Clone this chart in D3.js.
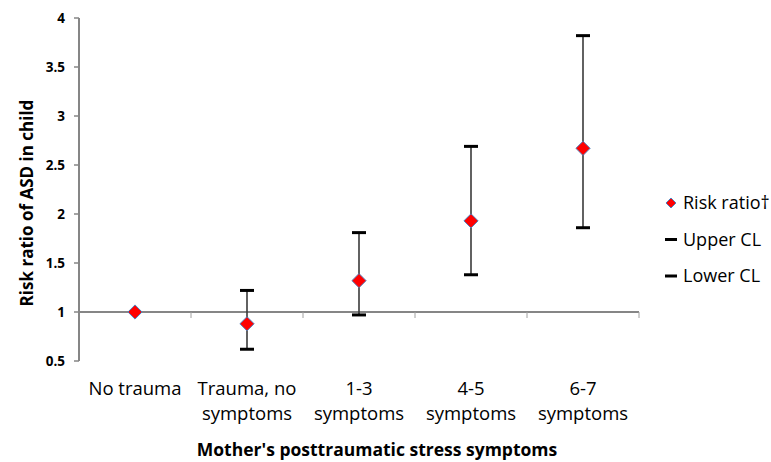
<!DOCTYPE html>
<html>
<head>
<meta charset="utf-8">
<script src="https://cdn.jsdelivr.net/npm/d3@7"></script>
<style>
  body { margin: 0; background: #fff; }
  text { font-family: "Open Sans", Lato, sans-serif; fill: #000; }
  .tick-label { font-size: 13.5px; font-weight: bold; }
  .cat-label { font-size: 18.5px; }
  .axis-title { font-weight: bold; }
  .legend-label { font-size: 18px; }
</style>
</head>
<body>
<div id="chart"></div>
<script>
const categories = [["No trauma"], ["Trauma, no", "symptoms"], ["1-3", "symptoms"], ["4-5", "symptoms"], ["6-7", "symptoms"]];
const riskRatio = [1.0, 0.88, 1.32, 1.93, 2.67];
const upperCL = [null, 1.22, 1.81, 2.69, 3.82];
const lowerCL = [null, 0.62, 0.97, 1.38, 1.86];
const yTicks = [0.5, 1, 1.5, 2, 2.5, 3, 3.5, 4];
const legendItems = ["Risk ratio\u2020", "Upper CL", "Lower CL"];

const width = 771;
const height = 462;
const margin = { top: 18, left: 79, right: 132, bottom: 101 };

const svg = d3.select('#chart').append('svg')
  .attr('width', width)
  .attr('height', height);

const x = d3.scaleBand()
  .domain(d3.range(categories.length))
  .range([margin.left, width - margin.right]);

const y = d3.scaleLinear()
  .domain([0.5, 4])
  .range([height - margin.bottom, margin.top]);

// y axis
svg.append('line')
  .attr('x1', margin.left).attr('x2', margin.left)
  .attr('y1', y(4)).attr('y2', y(0.5))
  .attr('stroke', '#868686').attr('stroke-width', 2);

svg.selectAll('.ytick')
  .data(yTicks)
  .join('line')
    .attr('class', 'ytick')
    .attr('x1', margin.left - 5).attr('x2', margin.left)
    .attr('y1', d => y(d)).attr('y2', d => y(d))
    .attr('stroke', '#868686').attr('stroke-width', 1.5);

svg.selectAll('.tick-label')
  .data(yTicks)
  .join('text')
    .attr('class', 'tick-label')
    .attr('x', margin.left - 14)
    .attr('y', d => y(d))
    .attr('dy', '0.35em')
    .attr('text-anchor', 'end')
    .text(d => d);

// x axis at 1
svg.append('line')
  .attr('x1', margin.left).attr('x2', width - margin.right)
  .attr('y1', y(1)).attr('y2', y(1))
  .attr('stroke', '#868686').attr('stroke-width', 2);

svg.selectAll('.xtick')
  .data(d3.range(1, categories.length + 1))
  .join('line')
    .attr('class', 'xtick')
    .attr('x1', d => margin.left + d * x.bandwidth())
    .attr('x2', d => margin.left + d * x.bandwidth())
    .attr('y1', y(1)).attr('y2', y(1) + 6)
    .attr('stroke', '#a0a0a0').attr('stroke-width', 1);

const catGroups = svg.selectAll('.cat')
  .data(categories)
  .join('text')
    .attr('class', 'cat-label')
    .attr('text-anchor', 'middle')
    .attr('x', (d, i) => x(i) + x.bandwidth() / 2)
    .attr('y', 395);

catGroups.selectAll('tspan')
  .data(d => d)
  .join('tspan')
    .attr('x', function() { return this.parentNode.getAttribute('x'); })
    .attr('dy', (d, i) => i === 0 ? 0 : 25)
    .text(d => d);

// error bars
const bars = riskRatio.map((v, i) => ({ i, v, up: upperCL[i], lo: lowerCL[i] }))
  .filter(d => d.up !== null);

svg.selectAll('.stem')
  .data(bars)
  .join('line')
    .attr('x1', d => x(d.i) + x.bandwidth() / 2)
    .attr('x2', d => x(d.i) + x.bandwidth() / 2)
    .attr('y1', d => y(d.up)).attr('y2', d => y(d.lo))
    .attr('stroke', '#3a3a3a').attr('stroke-width', 1.6);

['up', 'lo'].forEach(k => {
  svg.selectAll('.cap-' + k)
    .data(bars)
    .join('line')
      .attr('x1', d => x(d.i) + x.bandwidth() / 2 - 7)
      .attr('x2', d => x(d.i) + x.bandwidth() / 2 + 7)
      .attr('y1', d => y(d[k])).attr('y2', d => y(d[k]))
      .attr('stroke', '#000').attr('stroke-width', 3);
});

const diamond = d3.symbol().type(d3.symbolDiamond2).size(128);

svg.selectAll('.point')
  .data(riskRatio)
  .join('path')
    .attr('d', diamond)
    .attr('transform', (d, i) => `translate(${x(i) + x.bandwidth() / 2},${y(d)})`)
    .attr('fill', '#ff0000')
    .attr('stroke', '#4f81bd').attr('stroke-width', 1);

// axis titles
svg.append('text')
  .attr('class', 'axis-title')
  .attr('font-size', 17.5)
  .attr('text-anchor', 'middle')
  .attr('x', 377)
  .attr('y', 456)
  .text("Mother's posttraumatic stress symptoms");

svg.append('text')
  .attr('class', 'axis-title')
  .attr('font-size', 17)
  .attr('text-anchor', 'middle')
  .attr('transform', `translate(33,203) rotate(-90)`)
  .text('Risk ratio of ASD in child');

// legend
const legend = svg.selectAll('.legend')
  .data(legendItems)
  .join('g')
    .attr('transform', (d, i) => `translate(671,${203 + i * 36.5})`);

legend.filter((d, i) => i === 0).append('path')
  .attr('d', d3.symbol().type(d3.symbolDiamond2).size(64))
  .attr('fill', '#ff0000')
  .attr('stroke', '#4f81bd').attr('stroke-width', 1);

legend.filter((d, i) => i > 0).append('line')
  .attr('x1', -6).attr('x2', 6)
  .attr('stroke', '#000').attr('stroke-width', 3);

legend.append('text')
  .attr('class', 'legend-label')
  .attr('x', 12)
  .attr('dy', '0.35em')
  .text(d => d);
</script>
</body>
</html>
